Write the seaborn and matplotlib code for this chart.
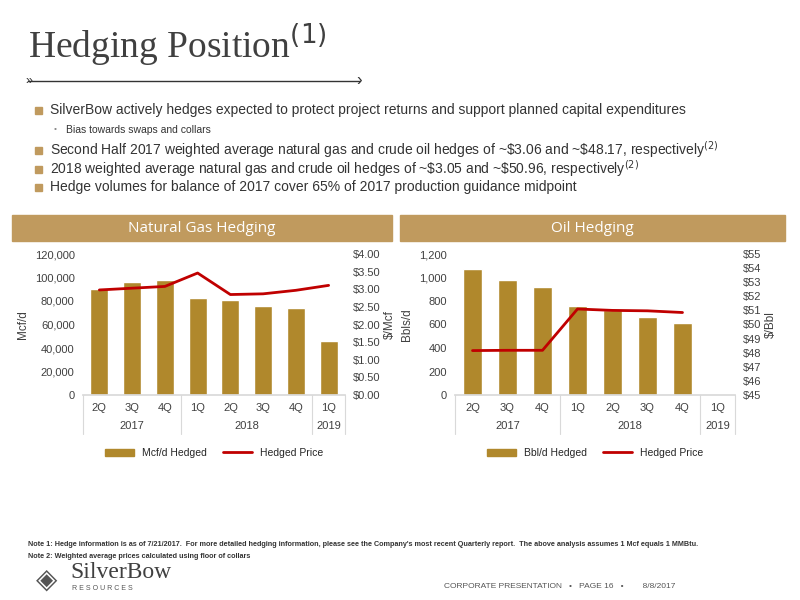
import matplotlib
matplotlib.use("Agg")
import matplotlib.pyplot as plt
import seaborn as sns
import pandas as pd
from matplotlib.patches import Rectangle
from matplotlib.lines import Line2D

quarters = ["2Q", "3Q", "4Q", "1Q", "2Q", "3Q", "4Q", "1Q"]
years = ["2017", "2018", "2019"]
year_spans = [3, 4, 1]
gas_volume = [90500, 96000, 98000, 82500, 81000, 76000, 74000, 46000]
gas_price = [2.98, 3.03, 3.08, 3.46, 2.85, 2.87, 2.97, 3.11]
oil_volume = [1070, 975, 920, 760, 720, 660, 615, 0]
oil_price = [48.15, 48.17, 48.17, 51.1, 51.0, 50.97, 50.85, None]

GOLD = "#B0882C"
RED = "#C00000"
HEAD = "#C09A5E"
TXT = "#333333"

sns.set_theme(style="white")
plt.rcParams["font.family"] = ["Liberation Sans", "DejaVu Sans"]

fig = plt.figure(figsize=(8, 6), dpi=100)
fig.patch.set_facecolor("white")

# Title
fig.text(0.035, 1 - 45/600, "Hedging Position$^{(1)}$", fontsize=27, family="Liberation Serif",
         color="#404040", va="center")
fig.add_artist(Line2D([0.035, 0.45], [1-81/600, 1-81/600], color="#333333", lw=1))
fig.text(0.032, 1-81/600, "»", fontsize=9, va="center", ha="left", color="#333")
fig.text(0.452, 1-81/600, "›", fontsize=12, va="center", ha="right", color="#333")

bullets = [
    (110, "SilverBow actively hedges expected to protect project returns and support planned capital expenditures", 0, 10),
    (130, "Bias towards swaps and collars", 1, 7.5),
    (150, "Second Half 2017 weighted average natural gas and crude oil hedges of ~\\$3.06 and ~\\$48.17, respectively$^{(2)}$", 0, 10),
    (169, "2018 weighted average natural gas and crude oil hedges of ~\\$3.05 and ~\\$50.96, respectively$^{(2)}$", 0, 10),
    (187, "Hedge volumes for balance of 2017 cover 65% of 2017 production guidance midpoint", 0, 10),
]
for y, t, lvl, fs in bullets:
    yy = 1 - y/600
    if lvl == 0:
        fig.add_artist(Rectangle((0.044, yy-0.006), 0.008, 0.011, color=HEAD, transform=fig.transFigure))
        fig.text(0.0625, yy, t, fontsize=fs, va="center", color=TXT)
    else:
        fig.text(0.067, yy, "•", fontsize=6, va="center", color="#888")
        fig.text(0.082, yy, t, fontsize=fs, va="center", color=TXT)

def panel(left, width, hx0, hx1, title, vol, price, vmax, vstep, vfmt, pmin, pmax, pstep, pfmt,
          ylab, y2lab, vlab):
    fig.add_artist(Rectangle((hx0/800, 1-241/600), (hx1-hx0)/800, 26/600, color=HEAD,
                             transform=fig.transFigure))
    fig.text((hx0+hx1)/1600, 1-228/600, title, fontsize=11, color="white", ha="center", va="center",
             family="Open Sans")
    ax = fig.add_axes([left, 1-395/600, width, 141/600])
    df = pd.DataFrame({"x": list(range(8)), "v": vol})
    sns.barplot(data=df, x="x", y="v", color=GOLD, width=0.55, ax=ax, saturation=1, native_scale=True)
    ax.set_xlim(-0.5, 7.5)
    ax.set_ylim(0, vmax)
    ticks = list(range(0, vmax+1, vstep))
    ax.set_yticks(ticks)
    ax.set_yticklabels([vfmt(t) for t in ticks], fontsize=8, color="#404040")
    ax.set_xticks([])
    ax.set_xlabel("")
    ax.set_ylabel(ylab, fontsize=8.5, color="#404040")
    for s in ["top", "right", "left"]:
        ax.spines[s].set_visible(False)
    ax.spines["bottom"].set_color("#d9d9d9")
    ax.tick_params(axis="y", length=0, pad=6)
    ax2 = ax.twinx()
    pdf = pd.DataFrame({"x": list(range(8)), "p": price})
    sns.lineplot(data=pdf, x="x", y="p", color=RED, lw=2, ax=ax2)
    ax2.set_ylim(pmin, pmax)
    pt = [pmin + i*pstep for i in range(int(round((pmax-pmin)/pstep))+1)]
    ax2.set_yticks(pt)
    ax2.set_yticklabels([pfmt(t) for t in pt], fontsize=8, color="#404040")
    ax2.set_ylabel(y2lab, fontsize=8.5, color="#404040", labelpad=2)
    ax2.set_xlim(-0.5, 7.5)
    ax2.set_xlabel("")
    for s in ax2.spines.values():
        s.set_visible(False)
    ax2.tick_params(axis="y", length=0, pad=6)
    for i, q in enumerate(quarters):
        ax.text(i, -0.09, q, transform=ax.get_xaxis_transform(), ha="center", va="center",
                fontsize=8, color="#404040")
    start = 0
    bounds = [-0.5]
    for yr, sp in zip(years, year_spans):
        ax.text(start + sp/2 - 0.5, -0.22, yr, transform=ax.get_xaxis_transform(), ha="center",
                va="center", fontsize=8, color="#404040")
        start += sp
        bounds.append(start - 0.5)
    for b in bounds:
        ax.plot([b, b], [0, -0.28], transform=ax.get_xaxis_transform(), color="#d9d9d9", lw=0.8,
                clip_on=False)
    handles = [Rectangle((0, 0), 1, 1, color=GOLD), Line2D([0], [0], color=RED, lw=2)]
    ax.legend(handles, [vlab, "Hedged Price"], loc="upper center", bbox_to_anchor=(0.5, -0.31),
              ncol=2, frameon=False, fontsize=7.5, handlelength=2.8, columnspacing=1.5)

panel(83/800, 262/800, 12, 392, "Natural Gas Hedging", gas_volume, gas_price, 120000, 20000,
      lambda t: f"{t:,}", 0.0, 4.0, 0.5, lambda t: f"${t:.2f}", "Mcf/d", "$/Mcf", "Mcf/d Hedged")
panel(455/800, 280/800, 400, 785, "Oil Hedging", oil_volume, oil_price, 1200, 200,
      lambda t: f"{t:,}", 45, 55, 1, lambda t: f"${t:.0f}", "Bbls/d", "$/Bbl", "Bbl/d Hedged")

fig.text(0.035, 1-545/600, "Note 1: Hedge information is as of 7/21/2017.  For more detailed hedging information, please see the Company's most recent Quarterly report.  The above analysis assumes 1 Mcf equals 1 MMBtu.",
         fontsize=5.2, color="#333", va="center", weight="bold")
fig.text(0.035, 1-557/600, "Note 2: Weighted average prices calculated using floor of collars",
         fontsize=5.2, color="#333", va="center", weight="bold")
fig.text(0.088, 1-572/600, "SilverBow", fontsize=17, family="Liberation Serif", color="#404040", va="center")
fig.text(0.09, 1-589/600, "R E S O U R C E S", fontsize=5, color="#555", va="center")
fig.text(0.045, 1-580/600, "◈", fontsize=20, color="#555", va="center", family="DejaVu Sans")
fig.text(0.70, 1-586/600, "CORPORATE PRESENTATION   •   PAGE 16   •        8/8/2017", fontsize=6,
         color="#555", va="center", ha="center")

fig.savefig("out.png", dpi=100)
